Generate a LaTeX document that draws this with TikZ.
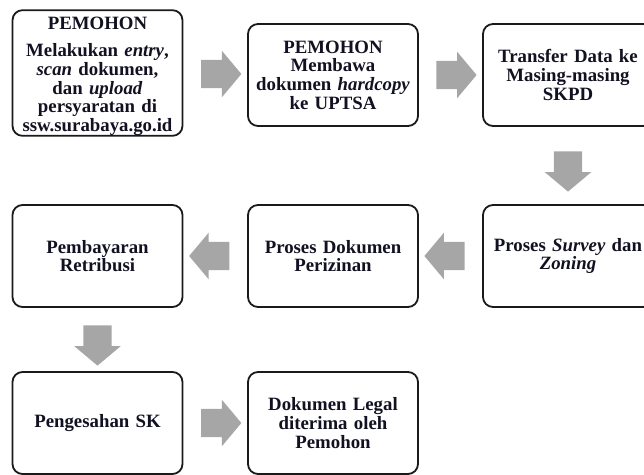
\documentclass[tikz,border=0pt]{standalone}
\usepackage{fontspec}
\setmainfont{Liberation Serif}
\usetikzlibrary{shapes.arrows,calc}
\definecolor{arrowgray}{HTML}{A6A6A6}
\definecolor{boxline}{HTML}{1A1A1A}
\definecolor{boxtext}{HTML}{111122}
\tikzset{
  stepbox/.style={draw=boxline, line width=1.8pt, rounded corners=10pt,
    fill=white, minimum width=170pt, minimum height=102pt,
    text width=168pt, align=center, inner sep=0pt, text=boxtext,
    font=\fontsize{18.8}{18.7}\selectfont\bfseries},
  flow/.style={single arrow, fill=arrowgray, draw=none,
    minimum height=37pt, minimum width=46pt, inner sep=14pt,
    single arrow head extend=9pt, single arrow tip angle=100}
}
\begin{document}
\begin{tikzpicture}[x=1pt,y=-1pt]
  \useasboundingbox (0,0) rectangle (644,474);

  % first row
  \node[stepbox, minimum height=124pt] (entry) at (97.5,73)
    {\rule{0pt}{19pt}PEMOHON\\[9pt]Melakukan \textit{entry},\\\textit{scan} dokumen,\\dan \textit{upload}\\persyaratan di\\ssw.surabaya.go.id};
  \node[stepbox] (hardcopy) at (333,75)
    {PEMOHON\\Membawa\\dokumen \textit{hardcopy}\\ke UPTSA};
  \node[stepbox] (transfer) at (568,75)
    {Transfer Data ke\\Masing-masing\\SKPD};

  % second row
  \node[stepbox] (survey) at (568,256)
    {Proses \textit{Survey} dan\\\textit{Zoning}};
  \node[stepbox] (proses) at (333,256)
    {Proses Dokumen\\Perizinan};
  \node[stepbox] (bayar) at (97.5,256)
    {Pembayaran\\Retribusi};

  % third row
  \node[stepbox] (sk) at (97.5,423)
    {Pengesahan SK};
  \node[stepbox] (legal) at (333,423)
    {Dokumen Legal\\diterima oleh\\Pemohon};

  % block arrows between the steps
  \node[flow] (a1) at ($(entry.east)!0.5!(hardcopy.west)$) {};
  \node[flow] (a2) at ($(hardcopy.east)!0.5!(transfer.west)$) {};
  \node[flow, rotate=-90] (a3) at ($(transfer.south)!0.5!(survey.north)$) {};
  \node[flow, rotate=180] (a4) at ($(survey.west)!0.5!(proses.east)$) {};
  \node[flow, rotate=180] (a5) at ($(proses.west)!0.5!(bayar.east)$) {};
  \node[flow, rotate=-90] (a6) at ($(bayar.south)!0.5!(sk.north)$) {};
  \node[flow] (a7) at ($(sk.east)!0.5!(legal.west)$) {};
\end{tikzpicture}
\end{document}
